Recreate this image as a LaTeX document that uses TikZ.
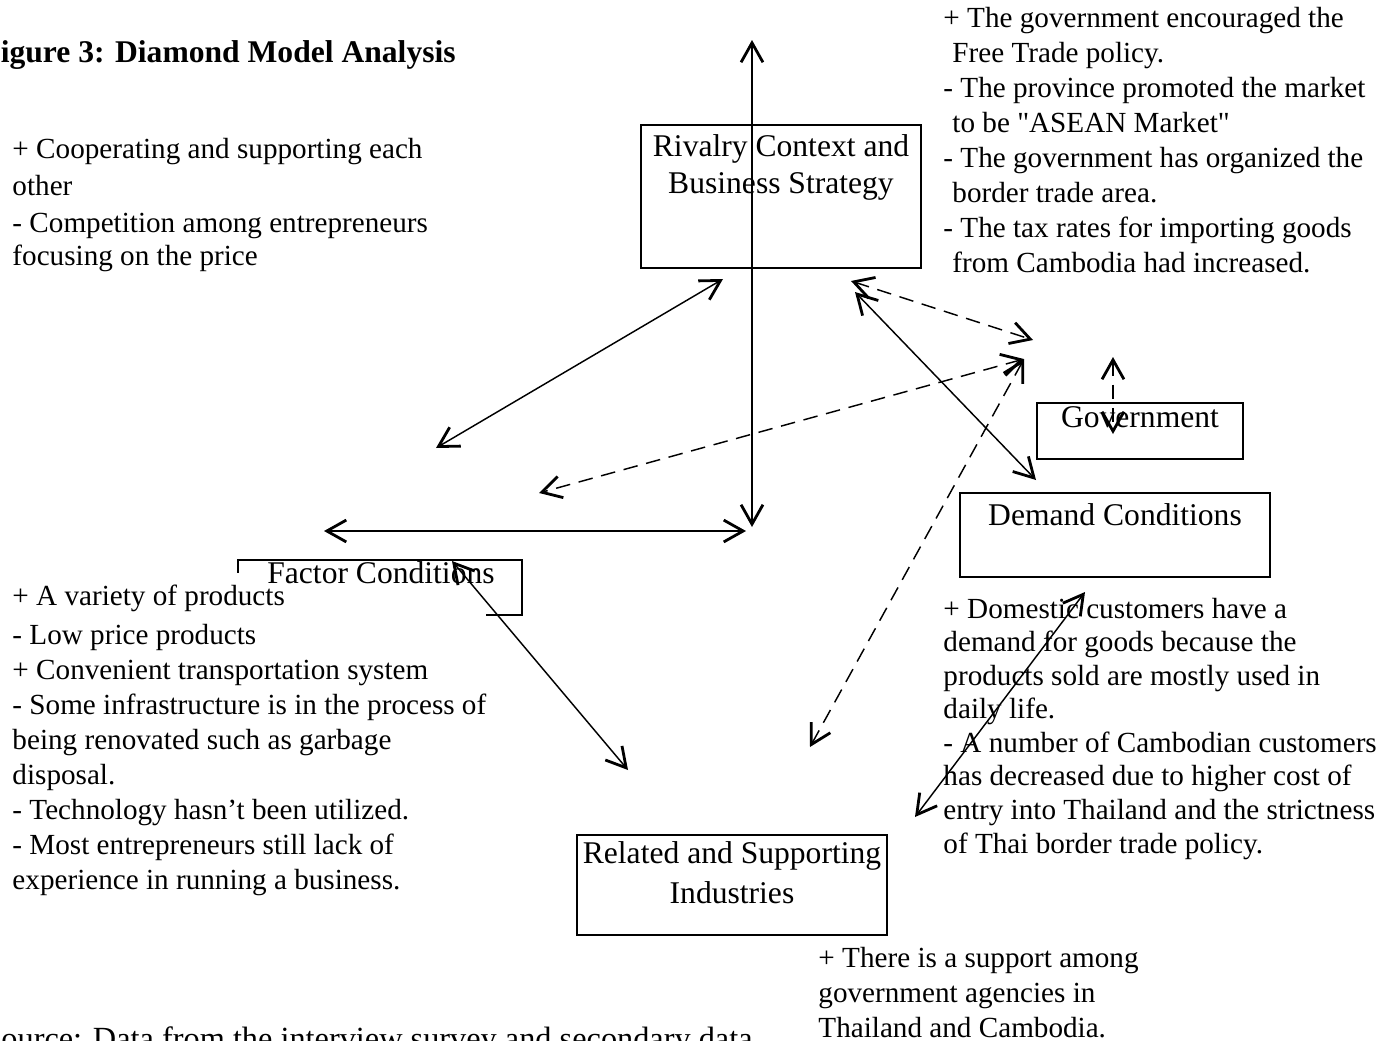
\documentclass[tikz,border=0pt]{standalone}
\usepackage{fontspec}
\setmainfont{Liberation Serif}
\usetikzlibrary{arrows.meta}
\def\u{0.4115pt}
\def\tipLen{8pt}
\def\tipWid{9pt}
\tikzset{
  basebox/.style={rectangle, draw=black, line width=0.75pt, inner sep=0pt},
  boxtext/.style={font=\fontsize{13}{15.2}\selectfont, align=center, inner sep=0pt, anchor=base},
  note/.style={font=\fontsize{12}{14.4}\selectfont, align=left, inner sep=0pt, anchor=base west},
  link/.style={
    {Straight Barb[length=\tipLen, width=\tipWid, line width=1.15pt]}-{Straight Barb[length=\tipLen, width=\tipWid, line width=1.15pt]},
    line width=0.6pt
  },
  dashlink/.style={link, dash pattern=on 6pt off 3.6pt}
}

\begin{document}
\begin{tikzpicture}[x=\u, y=-\u]
  \useasboundingbox (0,0) rectangle (1379,1041);

  % title and source (multi-line nodes sit on their last baseline)
  \node[note, font=\fontsize{13}{15.6}\selectfont\bfseries] (title) at (-19,62) {Figure 3: Diamond Model Analysis};
  \node[note, font=\fontsize{13.3}{16}\selectfont] (source) at (-17,1049) {Source: Data from the interview survey and secondary data};

  % boxes
  \node[basebox, minimum width=280*\u, minimum height=143*\u] (rivalry) at (781,196.5) {};
  \node[basebox, minimum width=206*\u, minimum height=56*\u] (gov) at (1140,431) {};
  \node[basebox, minimum width=310*\u, minimum height=84*\u] (demand) at (1115,535) {};
  \node[basebox, minimum width=284*\u, minimum height=55*\u] (factor) at (380,587.5) {};
  \node[basebox, minimum width=310*\u, minimum height=100*\u] (related) at (732,885) {};

  % notes
  \node[note] (rivalryNote) at (12,265) {+ Cooperating and supporting each\\[1pt]
    other\\[1pt]
    - Competition among entrepreneurs\\[-1.2pt]
    focusing on the price};
  \node[note] (govNote) at (943,272) {+ The government encouraged the\\
    \hspace{3.7pt}Free Trade policy.\\
    - The province promoted the market\\
    \hspace{3.7pt}to be \textquotedbl ASEAN Market\textquotedbl\\
    - The government has organized the\\
    \hspace{3.7pt}border trade area.\\
    - The tax rates for importing goods\\
    \hspace{3.7pt}from Cambodia had increased.};
  \node[note, fill=white, inner ysep=5pt] (factorNote) at (12,889) {+ A variety of products\\[1.5pt]
    - Low price products\\
    + Convenient transportation system\\
    - Some infrastructure is in the process of\\
    being renovated such as garbage\\
    disposal.\\
    - Technology hasn’t been utilized.\\
    - Most entrepreneurs still lack of\\
    experience in running a business.};
  \node[note, font=\fontsize{12}{13.8}\selectfont] (demandNote) at (943,853) {+ Domestic customers have a\\
    demand for goods because the\\
    products sold are mostly used in\\
    daily life.\\
    - A number of Cambodian customers\\
    has decreased due to higher cost of\\
    entry into Thailand and the strictness\\
    of Thai border trade policy.};
  \node[note] (relatedNote) at (818,1037) {+ There is a support among\\
    government agencies in\\
    Thailand and Cambodia.};

  % box labels
  \node[boxtext] (rivalryText) at (781,193) {Rivalry Context and\\Business Strategy};
  \node[boxtext] (govText) at (1140,427) {Government};
  \node[boxtext] (demandText) at (1115,525) {Demand Conditions};
  \node[boxtext] (factorText) at (381,583) {Factor Conditions};
  \node[boxtext, font=\fontsize{13}{16.4}\selectfont] (relatedText) at (732,903) {Related and Supporting\\Industries};

  % arrow ends
  \coordinate (vTop) at (752,40);
  \coordinate (vBot) at (752,527);
  \coordinate (hLeft) at (324,531);
  \coordinate (hRight) at (746,531);
  \coordinate (rfUp) at (723,279);
  \coordinate (rfDown) at (436,448);
  \coordinate (govTip) at (1024,359);
  \coordinate (gfDown) at (539,493);
  \coordinate (grDown) at (810,747);
  \coordinate (rgLeft) at (851,281);
  \coordinate (rgRight) at (1033,340);
  \coordinate (rdUp) at (855,292);
  \coordinate (rdDown) at (1036,480);
  \coordinate (frUp) at (452,561);
  \coordinate (frDown) at (628,770);
  \coordinate (drUp) at (1085,592);
  \coordinate (drDown) at (915,817);
  \coordinate (govUp) at (1113,357);
  \coordinate (govDown) at (1113,434);

  % links
  \draw[link] (vTop) -- (vBot);
  \draw[link] (hLeft) -- (hRight);
  \draw[link] (rfUp) -- (rfDown);
  \draw[link] (rdUp) -- (rdDown);
  \draw[link] (frUp) -- (frDown);
  \draw[link] (drUp) -- (drDown);
  \draw[dashlink] (govTip) -- (gfDown);
  \draw[dashlink] (govTip) -- (grDown);
  \draw[dashlink] (rgLeft) -- (rgRight);
  \draw[dashlink] (govUp) -- (govDown);
\end{tikzpicture}
\end{document}
